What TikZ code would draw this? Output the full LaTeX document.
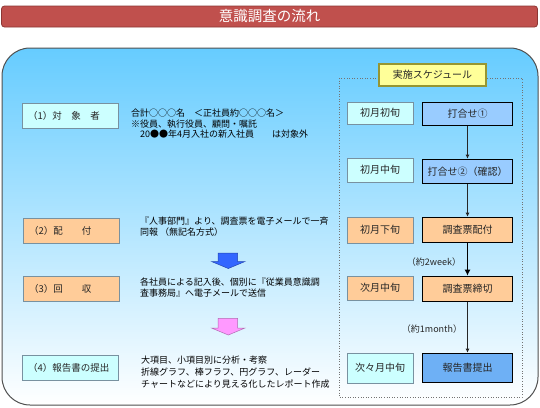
\documentclass[tikz,border=0pt]{standalone}
\usepackage{fontspec}
\setmainfont{Noto Sans CJK JP}
\usetikzlibrary{arrows.meta}
\definecolor{titlered}{RGB}{192,80,77}
\definecolor{titleedge}{RGB}{140,55,52}
\definecolor{skyblue}{RGB}{102,204,255}
\definecolor{framegray}{RGB}{80,80,80}
\definecolor{palecyan}{RGB}{204,255,255}
\definecolor{peach}{RGB}{255,204,153}
\definecolor{lightblue}{RGB}{153,204,255}
\definecolor{deepblue}{RGB}{110,176,245}
\definecolor{boxedge}{RGB}{120,145,160}
\definecolor{yellowbox}{RGB}{255,255,153}
\definecolor{yellowedge}{RGB}{150,150,50}
\definecolor{arrowblue}{RGB}{51,102,255}
\definecolor{arrowpink}{RGB}{255,153,255}
\newcommand\txtfont{\fontsize{9}{11}\selectfont}
\newcommand\boxfont{\fontsize{9.5}{11}\selectfont}
\newcommand\planfont{\fontsize{10}{12}\selectfont}

\begin{document}
\begin{tikzpicture}[x=1pt,y=-1pt,
    stagebox/.style={draw=boxedge, line width=0.7pt, minimum width=96pt, minimum height=25pt,
        text width=84pt, inner xsep=6pt, inner ysep=0pt, align=left, font=\boxfont, text=black!85},
    notes/.style={anchor=north west, inner sep=0pt, align=left, font=\txtfont, text=black},
    whenbox/.style={draw=boxedge, line width=0.7pt, minimum width=66pt, inner sep=0pt, font=\planfont, text=black!85},
    taskbox/.style={draw=black, line width=1.6pt, minimum width=90pt, inner sep=0pt, font=\planfont, text=black!85},
    thinflow/.style={draw=black!85, line width=0.8pt, -{Latex[length=4pt,width=4pt]}},
    thickflow/.style={draw=black, line width=1.8pt, -{Latex[length=6pt,width=6pt]}}]
    \useasboundingbox (0,0) rectangle (540,407);
    \node[draw=titleedge, line width=0.8pt, fill=titlered, rounded corners=3pt, minimum width=536pt,
        minimum height=21pt, inner sep=0pt, text=white, font=\fontsize{14.5}{16}\selectfont] (title) at (269.5,16.5) {意識調査の流れ};
    \shade[draw=framegray, line width=1pt, rounded corners=28pt, top color=skyblue, bottom color=white] (2,48) rectangle (538,405);

    \node[stagebox, fill=palecyan] (target) at (70,116) {（1）対　象　者};
    \node[stagebox, fill=peach] (deliver) at (71,230.5) {（2）配　　付};
    \node[stagebox, fill=peach] (collect) at (71,289) {（3）回　　収};
    \node[stagebox, fill=palecyan] (report) at (70,367.5) {（4）報告書の提出};

    \node[notes, font=\fontsize{9}{10.5}\selectfont] (targetnote) at (131,109) {合計○○○名　＜正社員約○○○名＞\\※役員、執行役員、顧問・嘱託\\　20●●年4月入社の新入社員　　は対象外};
    \node[notes] (delivernote) at (140,217) {『人事部門』より、調査票を電子メールで一斉\\同報 （無記名方式）};
    \node[notes, font=\fontsize{9}{11.5}\selectfont] (collectnote) at (140,277.5) {各社員による記入後、個別に『従業員意識調\\査事務局』へ電子メールで送信};
    \node[notes, font=\fontsize{9}{12}\selectfont] (reportnote) at (141,356) {大項目、小項目別に分析・考察\\折線グラフ、棒フラフ、円グラフ、レーダー\\チャートなどにより見える化したレポート作成};

    \draw[fill=arrowblue, draw=arrowblue!70!black, line width=0.5pt] (218,253) -- (237.5,253) -- (237.5,261.5) -- (245,261.5)
        -- (228.3,268.5) -- (211.5,261.5) -- (218,261.5) -- cycle;
    \draw[fill=arrowpink, draw=arrowpink!70!black, line width=0.5pt] (218,318.3) -- (237.5,318.3) -- (237.5,328) -- (245,328)
        -- (228.3,335) -- (211.5,328) -- (218,328) -- cycle;

    \draw[dotted, draw=black!55, line width=0.6pt] (339,78) rectangle (522,397);
    \node[draw=yellowedge, line width=1.4pt, fill=yellowbox, minimum width=107pt, minimum height=22pt,
        inner sep=0pt, font=\planfont, text=black!85] (plan) at (432.5,75) {実施スケジュール};

    \node[whenbox, fill=palecyan, minimum height=22pt] (w1) at (380,113) {初月初旬};
    \node[whenbox, fill=palecyan, minimum height=24pt] (w2) at (380,170) {初月中旬};
    \node[whenbox, fill=peach, minimum height=26pt] (w3) at (380,230) {初月下旬};
    \node[whenbox, fill=peach, minimum height=24pt] (w4) at (380,288) {次月中旬};
    \node[whenbox, fill=palecyan, minimum height=30pt] (w5) at (380,368) {次々月中旬};

    \node[taskbox, fill=lightblue, minimum height=23pt] (t1) at (467.5,114) {打合せ①};
    \node[taskbox, fill=lightblue, minimum height=24pt] (t2) at (467.5,171.5) {打合せ②（確認）};
    \node[taskbox, fill=peach, minimum height=25pt] (t3) at (467.5,230) {調査票配付};
    \node[taskbox, fill=peach, minimum height=25pt] (t4) at (467.5,289) {調査票締切};
    \node[taskbox, fill=deepblue, minimum height=29pt] (t5) at (467.5,368) {報告書提出};

    \draw[thinflow] (t1) -- (t2);
    \draw[thinflow] (t2) -- (t3);
    \draw[thickflow] (t3) -- (t4);
    \draw[thinflow] (t4) -- (t5);
    \node[font=\txtfont, text=black!85] (span1) at (434,262) {（約2week）};
    \node[font=\txtfont, text=black!85] (span2) at (432,329) {（約1month）};
\end{tikzpicture}
\end{document}
